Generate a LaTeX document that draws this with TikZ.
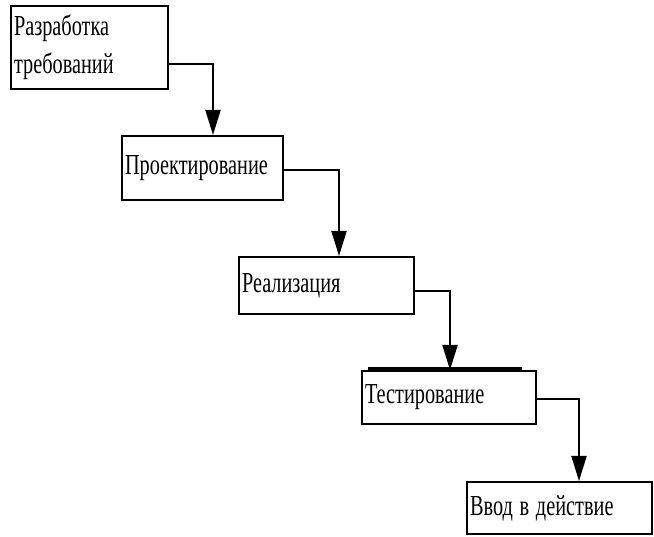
\documentclass[tikz,border=0pt]{standalone}
\usepackage{fontspec}
\usepackage{graphicx}
\setmainfont{Liberation Serif}
\usetikzlibrary{arrows.meta}
\newcommand\hsquash[1]{\scalebox{0.7}[1]{#1}}
\begin{document}
\begin{tikzpicture}[x=1pt,y=-1pt,
  stagebox/.style={draw=black,line width=2pt,fill=white,anchor=north west,
    inner xsep=3pt,inner ysep=0pt,align=left,
    font=\fontsize{29}{38}\selectfont},
  flow/.style={draw=black,line width=2pt,
    -{Triangle[length=25pt,width=15pt]}}]
\useasboundingbox (0,0) rectangle (654,537);
\fill[white] (0,0) rectangle (654,537);

% the five stages, each box placed by its top-left corner
\node[stagebox,minimum width=157pt,minimum height=83pt,text width=151pt]
  (b1) at (10,5) {\hsquash{Разработка}\\\hsquash{требований}};
\node[stagebox,minimum width=161pt,minimum height=64pt,text width=155pt]
  (b2) at (121,135) {\hsquash{Проектирование}};
\node[stagebox,minimum width=175pt,minimum height=57pt,text width=169pt]
  (b3) at (238,256) {\hsquash{Реализация}};
\node[stagebox,minimum width=174pt,minimum height=53pt,text width=168pt]
  (b4) at (361,370) {\hsquash{Тестирование}};
\node[stagebox,minimum width=185pt,minimum height=52pt,text width=179pt]
  (b5) at (466,481) {\hsquash{Ввод в действие}};

% heavy rule over the testing box
\draw[line width=3pt] ([xshift=7pt,yshift=1pt]b4.north west)
  -- ([xshift=-15pt,yshift=1pt]b4.north east);

% step-down connectors
\draw[flow] ([yshift=-16.5pt]b1.east) -| ([xshift=10.5pt]b2.north);
\draw[flow] ([yshift=-2pt]b2.east) -| ([xshift=12.5pt]b3.north);
\draw[flow] ([yshift=-5.5pt]b3.east) -| ([xshift=1pt]b4.north);
\draw[flow] ([yshift=-1.5pt]b4.east) -| ([xshift=19.5pt]b5.north);
\end{tikzpicture}
\end{document}
